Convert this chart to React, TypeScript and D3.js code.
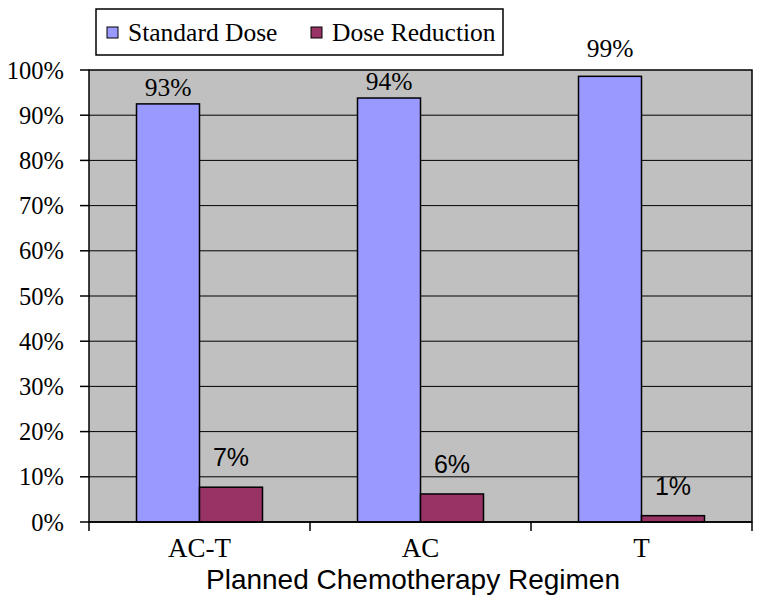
import React from "react";
import * as d3 from "d3";

const categories = ["AC-T", "AC", "T"];
const seriesNames = ["Standard Dose", "Dose Reduction"];
const standardDose = [92.5, 93.8, 98.6];
const doseReduction = [7.7, 6.2, 1.4];
const standardLabels = ["93%", "94%", "99%"];
const reductionLabels = ["7%", "6%", "1%"];
const yTicks = [0, 10, 20, 30, 40, 50, 60, 70, 80, 90, 100];
const colors = ["#9999ff", "#993366"];

const W = 762, H = 608;
const L = 89, R = 752, T = 70, B = 522;

export default function App() {
  const x = d3.scaleBand<string>().domain(categories).range([L, R]).paddingInner(0).paddingOuter(0);
  const y = d3.scaleLinear().domain([0, 100]).range([B, T]);
  const bw = 63;
  const off = (x.bandwidth() - 2 * bw) / 2;
  const serif = "'Liberation Serif', 'Times New Roman', serif";
  const sans = "'Liberation Sans', Arial, sans-serif";
  return (
    <svg width={W} height={H} style={{ position: "absolute", left: 0, top: 0 }}>
      <rect x={0} y={0} width={W} height={H} fill="#fff" />
      <rect x={L} y={T} width={R - L} height={B - T} fill="#c0c0c0" stroke="#000" strokeWidth={1.5} />
      {yTicks.map((t) => (
        <g key={t}>
          {t > 0 && t < 100 && <line x1={L} x2={R} y1={y(t)} y2={y(t)} stroke="#000" strokeWidth={1} />}
          <line x1={L - 9} x2={L} y1={y(t)} y2={y(t)} stroke="#000" strokeWidth={1.5} />
          <text x={L - 25} y={y(t) + 8.5} textAnchor="end" fontFamily={serif} fontSize={24.5}>{t}%</text>
        </g>
      ))}
      {categories.map((c, i) => {
        const x0 = (x(c) as number) + off;
        const base = y(standardDose[i]) - 8;
        const ly = base < T + 10 ? T - 13 : base;
        return (
          <g key={c}>
            <rect x={x0} y={y(standardDose[i])} width={bw} height={B - y(standardDose[i])} fill={colors[0]} stroke="#000" strokeWidth={1.5} />
            <rect x={x0 + bw} y={y(doseReduction[i])} width={bw} height={B - y(doseReduction[i])} fill={colors[1]} stroke="#000" strokeWidth={1.5} />
            <text x={x0 + bw / 2} y={ly} textAnchor="middle" fontFamily={serif} fontSize={25.5}>{standardLabels[i]}</text>
            <text x={x0 + bw * 1.5} y={y(doseReduction[i]) - 21} textAnchor="middle" fontFamily={sans} fontSize={25}>{reductionLabels[i]}</text>
            <text x={(x(c) as number) + x.bandwidth() / 2} y={557} textAnchor="middle" fontFamily={serif} fontSize={27}>{c}</text>
          </g>
        );
      })}
      <line x1={L} x2={R} y1={B} y2={B} stroke="#000" strokeWidth={1.5} />
      {[...categories.map((c) => x(c) as number), R].map((v, i) => (
        <line key={i} x1={v} x2={v} y1={B} y2={B + 9} stroke="#000" strokeWidth={1.5} />
      ))}
      <text x={413} y={589} textAnchor="middle" fontFamily={sans} fontSize={28}>Planned Chemotherapy Regimen</text>
      <g>
        <rect x={96} y={9} width={407} height={46} fill="#fff" stroke="#000" strokeWidth={1.5} />
        {seriesNames.map((s, i) => {
          const lx = i === 0 ? 107 : 311;
          return (
            <g key={s}>
              <rect x={lx} y={27} width={11} height={11} fill={colors[i]} stroke="#000" strokeWidth={1} />
              <text x={lx + 21} y={41} fontFamily={serif} fontSize={25.5}>{s}</text>
            </g>
          );
        })}
      </g>
    </svg>
  );
}
